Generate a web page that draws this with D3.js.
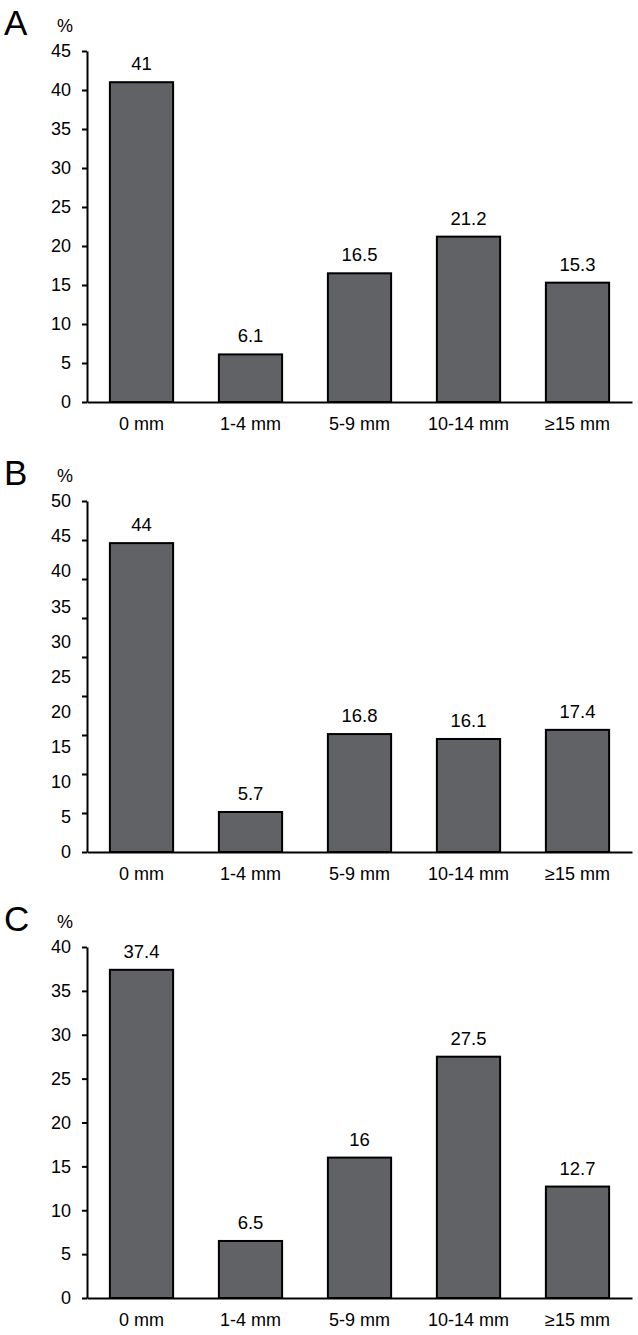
<!DOCTYPE html>
<html>
<head>
<meta charset="utf-8">
<script src="https://cdn.jsdelivr.net/npm/d3@7"></script>
<style>
  html, body { margin: 0; padding: 0; background: #fff; }
  svg { display: block; }
  text { font-family: "Liberation Sans", Arial, Helvetica, sans-serif; fill: #000; }
</style>
</head>
<body>
<svg id="chart" width="638" height="1335"></svg>
<script>
// ---- Data ----
const categories = ["0 mm", "1-4 mm", "5-9 mm", "10-14 mm", "\u226515 mm"];
const panelLetters = ["A", "B", "C"];
const valuesA = [41, 6.1, 16.5, 21.2, 15.3];
const valuesB = [44, 5.7, 16.8, 16.1, 17.4];
const valuesC = [37.4, 6.5, 16, 27.5, 12.7];
const yMaxes = [45, 50, 40];
// tick marks in panel B are drawn for 0..45 while labels run 0..50 (as in the original)
const tickMarkMaxes = [45, 45, 40];
const valueLabelsA = ["41", "6.1", "16.5", "21.2", "15.3"];
const valueLabelsB = ["44", "5.7", "16.8", "16.1", "17.4"];
const valueLabelsC = ["37.4", "6.5", "16", "27.5", "12.7"];
const seriesValues = [valuesA, valuesB, valuesC];
const seriesLabels = [valueLabelsA, valueLabelsB, valueLabelsC];

// ---- Layout ----
const panelTops = [0, 450, 896];
const axisLeftX = 87, axisRightX = 632;
const plotTop = 51, plotBottom = 402;
const barFill = "#606266";

const svg = d3.select("#chart");

const x = d3.scaleBand()
  .domain(categories)
  .range([axisLeftX, axisRightX])
  .paddingInner(0.42)
  .paddingOuter(0.21);

seriesValues.forEach((vals, i) => {
  const g = svg.append("g").attr("transform", `translate(0,${panelTops[i]})`);
  const y = d3.scaleLinear().domain([0, yMaxes[i]]).range([plotBottom, plotTop]);

  // panel letter and unit
  g.append("text").attr("x", 4).attr("y", 35)
    .style("font-size", "35px").text(panelLetters[i]);
  g.append("text").attr("x", 65).attr("y", 32).attr("text-anchor", "middle")
    .style("font-size", "18px").text("%");

  // bars
  g.selectAll("rect.bar").data(vals).enter().append("rect")
    .attr("class", "bar")
    .attr("x", (d, j) => x(categories[j]))
    .attr("width", x.bandwidth())
    .attr("y", d => y(d))
    .attr("height", d => y(0) - y(d))
    .attr("fill", barFill)
    .attr("stroke", "#000")
    .attr("stroke-width", 2);

  // value labels
  g.selectAll("text.val").data(vals).enter().append("text")
    .attr("class", "val")
    .attr("x", (d, j) => x(categories[j]) + x.bandwidth() / 2)
    .attr("y", d => y(d) - 12)
    .attr("text-anchor", "middle")
    .style("font-size", "18.5px")
    .text((d, j) => seriesLabels[i][j]);

  // y-axis labels (data scale)
  const yLab = g.append("g").attr("transform", `translate(${axisLeftX},0)`)
    .call(d3.axisLeft(y).tickValues(d3.range(0, yMaxes[i] + 1, 5)).tickSize(0).tickPadding(16).tickFormat(d3.format("d")));
  yLab.select(".domain").remove();
  yLab.selectAll("text").style("font-size", "18px").attr("font-family", null);

  // y-axis tick marks and line
  const yTickScale = d3.scaleLinear().domain([0, tickMarkMaxes[i]])
    .range([plotBottom, plotBottom - (plotBottom - plotTop) * tickMarkMaxes[i] / (i === 1 ? tickMarkMaxes[i] : yMaxes[i])]);
  const yTicks = g.append("g").attr("transform", `translate(${axisLeftX},0)`)
    .call(d3.axisLeft(yTickScale).tickValues(d3.range(0, tickMarkMaxes[i] + 1, 5)).tickSize(5).tickSizeOuter(0).tickFormat(""));
  yTicks.select(".domain").attr("stroke-width", 2).attr("stroke", "#000");
  yTicks.selectAll(".tick line").attr("stroke-width", 2).attr("stroke", "#000");

  // x axis
  const xAx = g.append("g").attr("transform", `translate(0,${y(0)})`)
    .call(d3.axisBottom(x).tickSize(0).tickPadding(15));
  xAx.select(".domain").attr("stroke-width", 2).attr("stroke", "#000");
  xAx.selectAll("text").style("font-size", "18px").attr("font-family", null);
});
</script>
</body>
</html>
